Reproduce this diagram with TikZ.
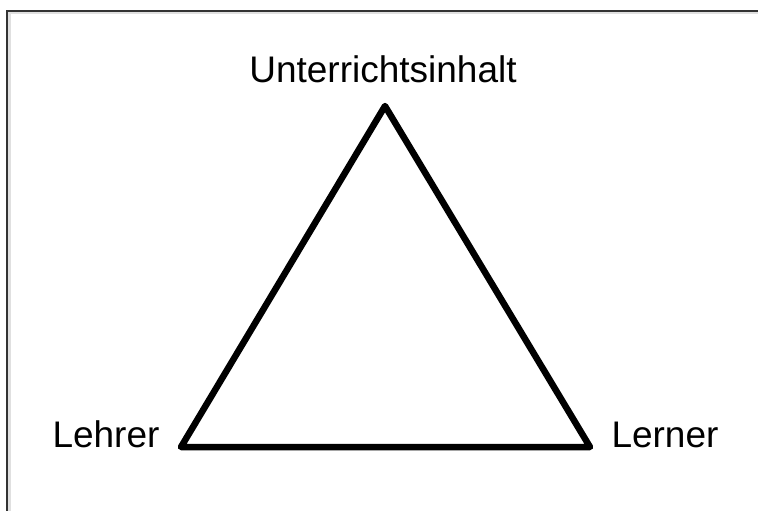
\documentclass[tikz,border=0pt]{standalone}
\usepackage{fontspec}
\setmainfont{Liberation Sans}
\begin{document}
\begin{tikzpicture}[x=1pt,y=-1pt,
  lbl/.style={inner sep=0pt,anchor=base,font=\fontsize{37}{40}\selectfont},
  tri/.style={line width=6.5pt,line join=round,line cap=round}]
\useasboundingbox (0,0) rectangle (758,511);
\begin{scope}
\clip (0,0) rectangle (758,511);
\draw[line width=3pt,black!12] (9,520) -- (9,13) -- (770,13);
\draw[line width=2pt,black!80] (7,520) -- (7,11) -- (770,11);
\end{scope}
\coordinate (top) at (385,106);
\coordinate (bl) at (181,447);
\coordinate (br) at (590,447);
\draw[tri] (top) -- (bl) -- (br) -- cycle;
\node[lbl] (u) at (383,83) {Unterrichtsinhalt};
\node[lbl] (l) at (106,447) {Lehrer};
\node[lbl] (r) at (665,447) {Lerner};
\end{tikzpicture}
\end{document}
